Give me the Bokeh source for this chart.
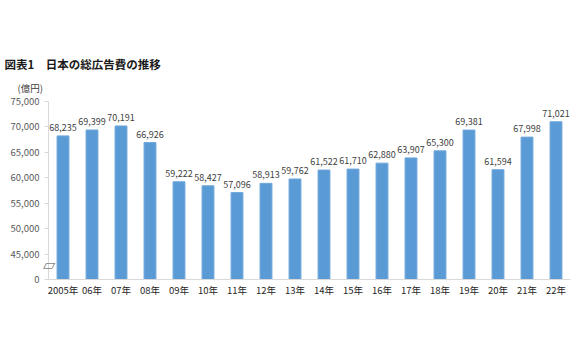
from bokeh.plotting import figure
from bokeh.models import Range1d, FixedTicker, LinearAxis, Title, ColumnDataSource
from bokeh.core.properties import value
from bokeh.embed import file_html
from bokeh.resources import INLINE

years = ["2005年", "06年", "07年", "08年", "09年", "10年", "11年", "12年", "13年",
         "14年", "15年", "16年", "17年", "18年", "19年", "20年", "21年", "22年"]
spend = [68235, 69399, 70191, 66926, 59222, 58427, 57096, 58913, 59762,
         61522, 61710, 62880, 63907, 65300, 69381, 61594, 67998, 71021]
y_ticks = [40000, 45000, 50000, 55000, 60000, 65000, 70000, 75000]
y_tick_labels = ["0", "45,000", "50,000", "55,000", "60,000", "65,000", "70,000", "75,000"]
break_at = 43000
title_text = "図表1　日本の総広告費の推移"
unit_text = "(億円)"

JP = "Noto Sans CJK JP"
idx = list(range(len(years)))
src = ColumnDataSource(dict(x=idx, top=spend, lab=[f"{v:,}" for v in spend]))

p = figure(width=580, height=348, output_backend="svg", toolbar_location=None,
           x_range=Range1d(-0.5, len(years) - 0.5), y_range=Range1d(40000, 75000),
           min_border_left=48, min_border_right=10, min_border_top=101, min_border_bottom=69)
p.outline_line_color = None
p.xgrid.visible = False
p.ygrid.visible = False
p.title.text = title_text
p.title.align = "left"
p.title.offset = -44
p.title.standoff = 8
p.title.text_font = JP
p.title.text_font_size = "11.5px"
p.title.text_font_style = "bold"
p.title.text_color = "#1A1A1A"

p.add_layout(Title(text=unit_text, align="left", offset=-31,
                   vertical_align="top", text_line_height=1.5,
                   text_font=JP, text_font_size="9.5px", text_font_style="normal",
                   text_color="#404040"), "above")

p.vbar(x="x", top="top", bottom=40000, width=0.41, source=src,
       fill_color="#5B9BD5", line_color="#6FA8DC", line_width=1)
p.text(x="x", y="top", text="lab", source=src, text_align="center", text_baseline="bottom",
       y_offset=-5, text_font=value(JP), text_font_size="9px", text_color="#404040")

# axes
p.yaxis.ticker = FixedTicker(ticks=y_ticks)
p.yaxis.major_label_overrides = {t: l for t, l in zip(y_ticks, y_tick_labels)}
p.yaxis.axis_line_color = "#D9D9D9"
p.yaxis.major_tick_line_color = "#D9D9D9"
p.yaxis.major_tick_out = 4
p.yaxis.major_tick_in = 0
p.yaxis.minor_tick_line_color = None
p.yaxis.major_label_text_font = JP
p.yaxis.major_label_text_font_size = "9.5px"
p.yaxis.major_label_text_color = "#595959"

# axis-break marker drawn as a label of a second, line-less axis
brk = LinearAxis(ticker=FixedTicker(ticks=[break_at]),
                 major_label_overrides={break_at: "▱"},
                 axis_line_color=None, major_tick_line_color=None, minor_tick_line_color=None,
                 major_tick_out=0, major_label_standoff=-47,
                 major_label_text_font_size="16px", major_label_text_color="#7F7F7F")
p.add_layout(brk, "left")

p.xaxis.ticker = FixedTicker(ticks=idx)
p.xaxis.major_label_overrides = {i: y for i, y in zip(idx, years)}
p.xaxis.axis_line_color = "#D9D9D9"
p.xaxis.major_tick_line_color = None
p.xaxis.major_tick_out = 0
p.xaxis.minor_tick_line_color = None
p.xaxis.major_label_text_font = JP
p.xaxis.major_label_text_font_size = "9.5px"
p.xaxis.major_label_text_color = "#262626"
p.xaxis.major_label_standoff = 3

open("out.html", "w").write(file_html(p, INLINE))
